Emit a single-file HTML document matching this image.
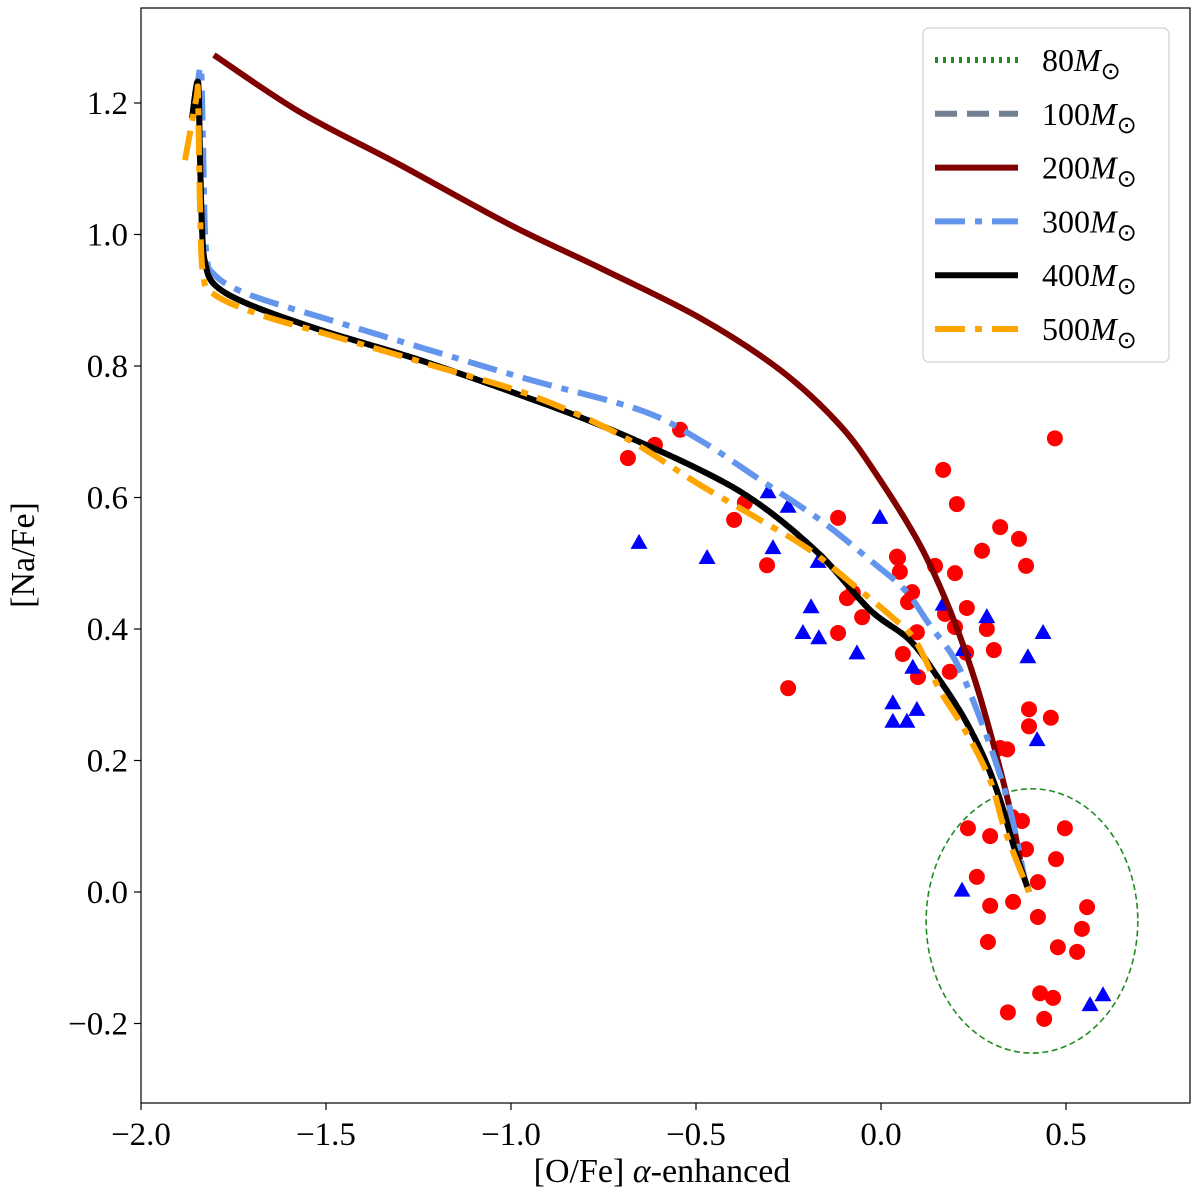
<!DOCTYPE html>
<html><head><meta charset="utf-8">
<style>
html,body{margin:0;padding:0;background:#fff;}
svg{display:block;font-family:"Liberation Serif",serif;}
</style></head>
<body>
<svg id="chart" width="1200" height="1198" viewBox="0 0 1200 1198">
<rect x="0" y="0" width="1200" height="1198" fill="#fff"/>
<g id="plot"></g>
<g id="axes"></g>
<g id="legend"></g>
</svg>
<script>
const xTicks = [-2.0, -1.5, -1.0, -0.5, 0.0, 0.5];
const xTickLabels = ["\u22122.0", "\u22121.5", "\u22121.0", "\u22120.5", "0.0", "0.5"];
const yTicks = [-0.2, 0.0, 0.2, 0.4, 0.6, 0.8, 1.0, 1.2];
const yTickLabels = ["\u22120.2", "0.0", "0.2", "0.4", "0.6", "0.8", "1.0", "1.2"];

const m200x = [-1.803,-1.570,-1.300,-1.000,-0.759,-0.489,-0.273,-0.111,-0.003,0.105,0.186,0.254,0.308,0.349,0.376];
const m200y = [1.273,1.186,1.106,1.014,0.949,0.873,0.794,0.710,0.627,0.528,0.429,0.322,0.216,0.125,0.049];
const m400x = [-1.862,-1.846,-1.841,-1.835,-1.827,-1.800,-1.705,-1.516,-1.246,-0.976,-0.759,-0.489,-0.327,-0.165,-0.030,0.078,0.159,0.227,0.281,0.322,0.362,0.400];
const m400y = [1.177,1.232,1.128,1.007,0.958,0.923,0.893,0.855,0.809,0.756,0.710,0.642,0.589,0.513,0.429,0.383,0.322,0.262,0.201,0.140,0.064,0.0];
const m300x = [-1.851,-1.838,-1.832,-1.824,-1.800,-1.705,-1.489,-1.219,-0.949,-0.651,-0.489,-0.327,-0.165,-0.030,0.065,0.132,0.200,0.254,0.308,0.349,0.389];
const m300y = [1.205,1.253,1.128,0.976,0.938,0.908,0.870,0.824,0.779,0.733,0.687,0.627,0.566,0.505,0.459,0.406,0.353,0.284,0.201,0.125,0.018];
const m500x = [-1.881,-1.851,-1.846,-1.841,-1.832,-1.800,-1.678,-1.489,-1.219,-0.949,-0.705,-0.489,-0.327,-0.192,-0.057,0.024,0.092,0.159,0.227,0.295,0.335,0.400];
const m500y = [1.113,1.205,1.212,1.052,0.938,0.908,0.878,0.847,0.802,0.756,0.695,0.619,0.566,0.520,0.459,0.421,0.383,0.307,0.246,0.170,0.094,0.0];

const circX = [-0.543,-0.611,-0.684,-0.368,-0.397,-0.308,-0.116,0.043,-0.092,-0.076,-0.051,-0.116,-0.251,0.470,0.168,0.205,0.322,0.373,0.273,0.392,0.046,0.051,0.146,0.200,0.084,0.073,0.232,0.173,0.200,0.286,0.097,0.305,0.059,0.230,0.100,0.186,0.400,0.400,0.459,0.322,0.341,0.235,0.295,0.354,0.381,0.497,0.392,0.473,0.259,0.424,0.295,0.357,0.424,0.557,0.543,0.289,0.478,0.530,0.430,0.465,0.343,0.441];
const circY = [0.703,0.680,0.660,0.592,0.566,0.497,0.569,0.510,0.447,0.455,0.418,0.394,0.310,0.690,0.642,0.590,0.555,0.537,0.519,0.496,0.508,0.487,0.496,0.485,0.456,0.441,0.432,0.423,0.403,0.400,0.395,0.368,0.362,0.364,0.327,0.335,0.278,0.252,0.265,0.219,0.217,0.097,0.085,0.114,0.108,0.097,0.065,0.050,0.023,0.015,-0.021,-0.015,-0.038,-0.023,-0.056,-0.076,-0.084,-0.091,-0.154,-0.161,-0.183,-0.193];
const triX = [-0.305,-0.251,-0.292,-0.654,-0.470,-0.170,-0.003,-0.189,-0.211,-0.168,-0.065,0.032,0.032,0.168,0.286,0.438,0.397,0.086,0.097,0.070,0.422,0.222,0.219,0.565,0.600];
const triY = [0.608,0.586,0.523,0.531,0.508,0.502,0.569,0.433,0.394,0.386,0.363,0.287,0.259,0.437,0.418,0.394,0.357,0.341,0.277,0.259,0.231,0.368,0.002,-0.172,-0.157];

const ellipseCenter = [0.408, -0.044];
const ellipseRadii = [0.286, 0.201];

const NS = "http://www.w3.org/2000/svg";
const L = 141, R = 1190, T = 8, B = 1103;
function sx(v){ return 881 + v * 370; }
function sy(v){ return 892 - v * 657.5; }
function mk(tag, attrs, parent){
  const e = document.createElementNS(NS, tag);
  for (const k in attrs) e.setAttribute(k, attrs[k]);
  parent.appendChild(e);
  return e;
}
const plot = document.getElementById('plot');
const axes = document.getElementById('axes');
const legend = document.getElementById('legend');

const defs = mk('defs', {}, plot);
const cp = mk('clipPath', {id:'clip'}, defs);
mk('rect', {x:L, y:T, width:R-L, height:B-T}, cp);
const g = mk('g', {'clip-path':'url(#clip)'}, plot);



const el = mk('ellipse', {cx:sx(ellipseCenter[0]), cy:sy(ellipseCenter[1]), rx:ellipseRadii[0]*370, ry:ellipseRadii[1]*657.5, fill:'none', stroke:'#228b22', 'stroke-width':1.6, 'stroke-dasharray':'6,3.5'}, g);



// smooth Catmull-Rom path
function pathOf(xs, ys){
  const P = xs.map((v,i)=>[sx(v), sy(ys[i])]);
  let d = 'M' + P[0][0].toFixed(1) + ',' + P[0][1].toFixed(1);
  for (let i=0;i<P.length-1;i++){
    const p0 = P[Math.max(0,i-1)], p1 = P[i], p2 = P[i+1], p3 = P[Math.min(P.length-1,i+2)];
    const c1 = [p1[0]+(p2[0]-p0[0])/6, p1[1]+(p2[1]-p0[1])/6];
    const c2 = [p2[0]-(p3[0]-p1[0])/6, p2[1]-(p3[1]-p1[1])/6];
    d += ' C'+c1[0].toFixed(1)+','+c1[1].toFixed(1)+' '+c2[0].toFixed(1)+','+c2[1].toFixed(1)+' '+p2[0].toFixed(1)+','+p2[1].toFixed(1);
  }
  return d;
}
const series = [
  {name:'line-80msun', xs:m400x, ys:m400y, color:'#228b22', dash:'3,5', w:6},
  {name:'line-100msun', xs:m400x, ys:m400y, color:'#708090', dash:'22,10', w:6},
  {name:'line-200msun', xs:m200x, ys:m200y, color:'#800000', dash:'', w:6},
  {name:'line-300msun', xs:m300x, ys:m300y, color:'#6495ed', dash:'30,10,7,10', w:6},
  {name:'line-400msun', xs:m400x, ys:m400y, color:'#000000', dash:'', w:6},
  {name:'line-500msun', xs:m500x, ys:m500y, color:'#ffa500', dash:'30,10,7,10', w:6}
];

circX.forEach((v,i)=>{
  const c = mk('circle', {cx:sx(v), cy:sy(circY[i]), r:8, fill:'#ff0000'}, g);
  
  
});
triX.forEach((v,i)=>{
  const x = sx(v), y = sy(triY[i]);
  const t = mk('polygon', {points:`${x},${y-9} ${x-8.5},${y+6} ${x+8.5},${y+6}`, fill:'#0000ff'}, g);
  
  
});
series.forEach(s=>{
  const p = mk('path', {d:pathOf(s.xs, s.ys), fill:'none', stroke:s.color, 'stroke-width':s.w, 'stroke-linejoin':'round'}, g);
  if (s.dash) p.setAttribute('stroke-dasharray', s.dash);
  
  
});

const fr = mk('rect', {x:L, y:T, width:R-L, height:B-T, fill:'none', stroke:'#000', 'stroke-width':1.2}, axes);



xTicks.forEach((v,i)=>{
  const x = sx(v);
  const tk = mk('line', {x1:x, y1:B, x2:x, y2:B+7, stroke:'#000', 'stroke-width':1.2}, axes);
  
  
  const tx = mk('text', {x:x, y:B+42, 'font-size':33, 'text-anchor':'middle'}, axes);
  tx.textContent = xTickLabels[i];
  
  
});
yTicks.forEach((v,i)=>{
  const y = sy(v);
  const tk = mk('line', {x1:L-7, y1:y, x2:L, y2:y, stroke:'#000', 'stroke-width':1.2}, axes);
  
  
  const tx = mk('text', {x:L-13, y:y+11, 'font-size':33, 'text-anchor':'end'}, axes);
  tx.textContent = yTickLabels[i];
  
  
});
const xl = mk('text', {x:662, y:1182, 'font-size':34, 'text-anchor':'middle'}, axes);
xl.innerHTML = '[O/Fe] <tspan font-style="italic">α</tspan>-enhanced';


const yl = mk('text', {x:0, y:0, 'font-size':34, 'text-anchor':'middle', transform:'translate(34,555) rotate(-90)'}, axes);
yl.textContent = '[Na/Fe]';



const lb = mk('rect', {x:923, y:28, width:246, height:334, rx:6, fill:'#fff', 'fill-opacity':0.85, stroke:'#d0d0d0', 'stroke-width':1.2}, legend);


const labels = ['80', '100', '200', '300', '400', '500'];
series.forEach((s,i)=>{
  const y = 60 + i*53.8;
  const ln = mk('line', {x1:935, y1:y, x2:1018, y2:y, stroke:s.color, 'stroke-width':s.w}, legend);
  if (s.dash) ln.setAttribute('stroke-dasharray', s.dash);
  
  
  const tx = mk('text', {x:1042, y:y+11, 'font-size':32}, legend);
  tx.innerHTML = labels[i] + '<tspan font-style="italic">M</tspan><tspan font-size="24" dy="8">⊙</tspan>';
  
  
});
</script>
</body></html>
